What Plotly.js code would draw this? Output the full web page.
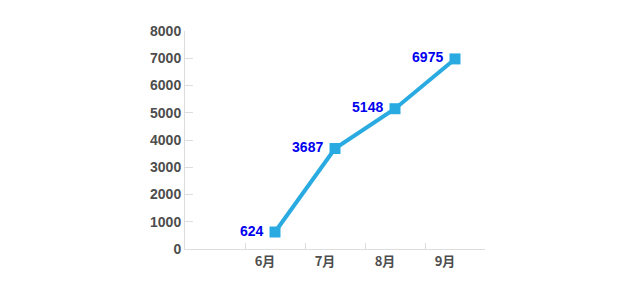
<!DOCTYPE html>
<html>
<head>
<meta charset="utf-8">
<script src="https://cdn.plot.ly/plotly-3.0.1.min.js"></script>
<style>html,body{margin:0;padding:0;background:#fff;}#chart{width:642px;height:282px;}</style>
</head>
<body>
<div id="chart"></div>
<script>
const months = ['6月', '7月', '8月', '9月'];
const values = [624, 3687, 5148, 6975];
const yTicks = [0, 1000, 2000, 3000, 4000, 5000, 6000, 7000, 8000];

const trace = {
  x: months,
  y: values,
  type: 'scatter',
  mode: 'lines+markers+text',
  text: values.map(v => String(v) + '\u00a0'),
  textposition: 'middle left',
  textfont: {family: 'Liberation Sans, Arial, sans-serif', size: 14, color: '#0000ee', weight: 'bold'},
  line: {color: '#29abe2', width: 4},
  marker: {symbol: 'square', size: 11, color: '#29abe2'},
  cliponaxis: false,
  hoverinfo: 'none'
};

const layout = {
  width: 642,
  height: 282,
  margin: {l: 185, r: 157, t: 31, b: 33},
  paper_bgcolor: '#ffffff',
  plot_bgcolor: '#ffffff',
  showlegend: false,
  xaxis: {
    type: 'category',
    range: [-1.5, 3.5],
    tickson: 'boundaries',
    ticks: 'inside',
    ticklen: 6,
    tickcolor: '#dddddd',
    showgrid: false,
    showline: true,
    linecolor: '#dddddd',
    linewidth: 1,
    ticklabelshift: -10,
    tickfont: {family: 'Noto Sans CJK SC, Liberation Sans, sans-serif', size: 13, color: '#4d4d4d', weight: 'bold'},
    zeroline: false,
    fixedrange: true
  },
  yaxis: {
    range: [0, 8000],
    tickvals: yTicks,
    ticktext: yTicks.map(String),
    ticks: 'inside',
    ticklen: 8,
    tickcolor: '#dddddd',
    showgrid: false,
    showline: true,
    linecolor: '#dddddd',
    linewidth: 1,
    zeroline: false,
    tickfont: {family: 'Liberation Sans, Arial, sans-serif', size: 14, color: '#4d4d4d', weight: 'bold'},
    fixedrange: true
  }
};

Plotly.newPlot('chart', [trace], layout, {displayModeBar: false, staticPlot: true});
</script>
</body>
</html>
